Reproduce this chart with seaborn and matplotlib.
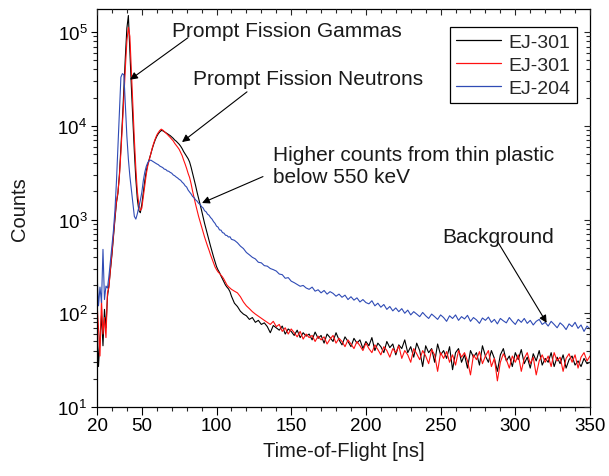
import numpy as np
import pandas as pd
import matplotlib
matplotlib.use("Agg")
import matplotlib.pyplot as plt
import seaborn as sns
from matplotlib.ticker import MultipleLocator, FixedLocator, LogLocator, NullFormatter

# ---------------- data ----------------
tof_fine = list(range(20, 111))          # 1 ns bins, 20..110 ns
tof_coarse = list(range(112, 351, 2))    # 2 ns bins, 112..350 ns

ej301_a_fine = [80, 27, 55, 95, 45, 110, 70, 150, 200, 290,
                420, 650, 1000, 1500, 1900, 3000, 5800, 11500, 25000, 55000,
                110000, 150000, 62000, 26000, 11500, 5300, 2700, 1650, 1250, 1180,
                1450, 1950, 2600, 3300, 3900, 4400, 5000, 5700, 6400, 7100,
                7700, 8200, 8600, 8900, 8850, 8650, 8450, 8250, 8050, 7850,
                7600, 7350, 7050, 6850, 6600, 6350, 6050, 5700, 5300, 5000,
                4700, 4450, 4100, 3600, 3100, 2700, 2300, 1950, 1680, 1450,
                1250, 1060, 910, 790, 690, 600, 520, 455, 400, 355,
                315, 290, 272, 250, 232, 216, 200, 190, 182, 170, 152]
ej301_a_coarse = [128, 118, 105, 98, 94, 86, 90, 80, 84, 76,
                  79, 72, 62, 74, 70, 66, 73, 60, 68, 64,
                  58, 66, 55, 62, 57, 60, 52, 63, 54, 58,
                  48, 60, 55, 50, 62, 52, 46, 56, 50, 44,
                  54, 48, 52, 42, 50, 45, 55, 40, 48, 44,
                  38, 50, 43, 47, 36, 46, 42, 52, 38, 44,
                  34, 48, 40, 27, 45, 38, 42, 30, 47, 36,
                  40, 33, 44, 25, 38, 42, 30, 36, 26, 40,
                  34, 38, 28, 45, 35, 30, 40, 33, 24, 36,
                  42, 31, 35, 27, 38, 32, 41, 29, 34, 26,
                  37, 31, 40, 28, 33, 30, 38, 27, 34, 29,
                  36, 26, 32, 35, 28, 31, 27, 33, 29, 30]

ej301_b_fine = [130, 70, 35, 140, 60, 90, 55, 165, 190, 300,
                440, 680, 1050, 1550, 1950, 2900, 5200, 10000, 20000, 42000,
                80000, 112000, 90000, 38000, 16000, 7200, 3500, 2000, 1450, 1250,
                1320, 1750, 2350, 3050, 3750, 4350, 5050, 5800, 6550, 7250,
                7950, 8450, 8900, 9200, 9000, 8700, 8400, 8100, 7800, 7500,
                7200, 6900, 6500, 6200, 5900, 5600, 5200, 4800, 4300, 3900,
                3500, 3100, 2800, 2400, 2000, 1700, 1450, 1250, 1080, 950,
                830, 730, 650, 580, 520, 470, 420, 380, 345, 312,
                292, 276, 266, 255, 244, 230, 214, 200, 192, 186, 180]
ej301_b_coarse = [172, 165, 150, 132, 120, 112, 104, 98, 93, 88,
                  84, 80, 76, 82, 72, 76, 64, 70, 60, 68,
                  62, 56, 64, 53, 60, 55, 58, 50, 57, 52,
                  56, 47, 53, 58, 48, 54, 50, 44, 52, 47,
                  42, 50, 45, 40, 48, 42, 38, 46, 41, 36,
                  44, 40, 34, 42, 38, 45, 33, 40, 36, 30,
                  42, 37, 32, 40, 35, 29, 41, 36, 24, 38,
                  33, 39, 30, 36, 28, 40, 34, 38, 31, 22,
                  36, 32, 39, 29, 35, 40, 27, 33, 19, 30,
                  37, 32, 26, 35, 30, 36, 24, 33, 38, 29,
                  34, 22, 31, 36, 30, 35, 27, 38, 31, 34,
                  24, 33, 37, 30, 36, 26, 34, 38, 31, 35]

ej204_fine = [270, 120, 190, 130, 480, 140, 195, 185, 250, 360,
              520, 760, 1250, 2500, 5800, 14000, 33000, 36000, 35000, 16000,
              7700, 4400, 2900, 2100, 1500, 1080, 1010, 1150, 1350, 1600,
              1950, 2600, 3200, 3700, 4050, 4250, 4300, 4200, 4100, 4000,
              3920, 3850, 3720, 3650, 3580, 3450, 3420, 3300, 3270, 3180,
              3120, 2990, 2930, 2840, 2770, 2680, 2620, 2500, 2420, 2290,
              2220, 2060, 1960, 1870, 1760, 1710, 1620, 1570, 1490, 1450,
              1370, 1330, 1240, 1210, 1140, 1110, 1050, 1010, 950, 910,
              850, 830, 775, 770, 725, 715, 680, 675, 650, 655, 615]
ej204_coarse = [600, 565, 520, 490, 445, 420, 395, 380, 350, 345,
                322, 318, 300, 292, 282, 262, 258, 236, 240, 220,
                212, 203, 194, 198, 186, 180, 190, 172, 178, 165,
                175, 160, 170, 163, 152, 160, 148, 156, 140, 150,
                138, 146, 132, 140, 130, 126, 136, 120, 128, 116,
                124, 110, 118, 106, 114, 104, 112, 100, 108, 96,
                104, 98, 92, 102, 94, 88, 98, 92, 86, 96,
                90, 82, 94, 88, 96, 84, 92, 87, 95, 82,
                90, 85, 78, 89, 84, 91, 80, 86, 77, 88,
                83, 79, 90, 82, 76, 86, 80, 88, 78, 84,
                75, 82, 86, 76, 80, 73, 82, 76, 70, 79,
                74, 67, 77, 72, 80, 69, 75, 64, 73, 68]

series_labels = ["EJ-301", "EJ-301", "EJ-204"]
x_ticks = [20, 50, 100, 150, 200, 250, 300, 350]

tof = np.array(tof_fine + tof_coarse, dtype=float)
series = [np.array(ej301_a_fine + ej301_a_coarse, dtype=float),
          np.array(ej301_b_fine + ej301_b_coarse, dtype=float),
          np.array(ej204_fine + ej204_coarse, dtype=float)]
colors = ["#000000", "#ff1010", "#2f4bb5"]

# ---------------- style ----------------
sns.set_style("ticks")
plt.rcParams["font.family"] = ["Liberation Sans", "DejaVu Sans"]
plt.rcParams["mathtext.fontset"] = "custom"
plt.rcParams["mathtext.rm"] = "Liberation Sans"
plt.rcParams["mathtext.it"] = "Liberation Sans:italic"
plt.rcParams["mathtext.bf"] = "Liberation Sans:bold"

fig = plt.figure(figsize=(6.09, 4.77), dpi=100)
L, R, T, B = 97, 590, 10, 408
W, H = 609, 477
ax = fig.add_axes([L / W, 1 - B / H, (R - L) / W, (B - T) / H])

for y, c, lab in zip(series, colors, series_labels):
    sns.lineplot(x=tof, y=y, ax=ax, color=c, label=lab, linewidth=0.8,
                 sort=False, estimator=None)

ax.set_yscale("log")
ax.set_xlim(20, 350)
ax.set_ylim(10, 1.76e5)
ax.xaxis.set_major_locator(FixedLocator(x_ticks))
ax.xaxis.set_minor_locator(MultipleLocator(10))
ax.yaxis.set_major_locator(LogLocator(base=10, numticks=10))
ax.yaxis.set_minor_locator(LogLocator(base=10, subs=np.arange(2, 10), numticks=20))
ax.yaxis.set_minor_formatter(NullFormatter())

for s in ax.spines.values():
    s.set_color("black")
    s.set_linewidth(0.9)
    s.set_visible(True)

ax.tick_params(axis="x", which="major", direction="out", length=5.5, width=0.8,
               labelsize=13.5, pad=1.5, colors="black")
ax.tick_params(axis="x", which="minor", direction="out", length=3, width=0.8)
ax.tick_params(axis="y", which="major", direction="out", length=4, width=0.8,
               labelsize=13.5, pad=3, colors="black")
ax.tick_params(axis="y", which="minor", direction="out", length=3, width=0.8)

# top and right inward ticks
axt = ax.twiny()
axt.set_xlim(ax.get_xlim())
axt.xaxis.set_major_locator(FixedLocator(x_ticks))
axt.xaxis.set_minor_locator(MultipleLocator(10))
axt.tick_params(axis="x", which="major", direction="in", length=4.5, width=0.8, labeltop=False)
axt.tick_params(axis="x", which="minor", direction="in", length=3, width=0.8)
axr = ax.twinx()
axr.set_yscale("log")
axr.set_ylim(ax.get_ylim())
axr.yaxis.set_major_locator(LogLocator(base=10, numticks=10))
axr.yaxis.set_minor_locator(LogLocator(base=10, subs=np.arange(2, 10), numticks=20))
axr.tick_params(axis="y", which="major", direction="in", length=4.5, width=0.8, labelright=False)
axr.tick_params(axis="y", which="minor", direction="in", length=3, width=0.8, labelright=False)
for a in (axt, axr):
    for s in a.spines.values():
        s.set_visible(False)

ax.set_xlabel("Time-of-Flight [ns]", fontsize=14.5, color="#1a1a1a")
ax.set_ylabel("Counts", fontsize=14.5, color="#1a1a1a")
ax.xaxis.set_label_coords(0.5, -0.085)
ax.yaxis.set_label_coords(-0.138, 0.5)

leg = ax.legend(loc="upper right", bbox_to_anchor=(577 / W, 1 - 28 / H),
                bbox_transform=fig.transFigure, frameon=True, fancybox=False,
                edgecolor="black", framealpha=1, borderaxespad=0, fontsize=14,
                handlelength=2.3, handletextpad=0.4, labelspacing=0.27,
                borderpad=0.33)
leg.get_frame().set_linewidth(0.9)
for h in leg.get_lines():
    h.set_linewidth(0.9)

# annotations
txt_kw = dict(fontsize=15, color="#1a1a1a")
arr = dict(arrowstyle="-|>", color="black", lw=0.8, mutation_scale=11,
           shrinkA=0, shrinkB=0)
ax.text(70.2, 1.05e5, "Prompt Fission Gammas", va="center", ha="left", **txt_kw)
ax.annotate("", xy=(42.1, 3.1e4), xytext=(80.9, 8.7e4), arrowprops=arr)
ax.text(84.3, 3.2e4, "Prompt Fission Neutrons", va="center", ha="left", **txt_kw)
ax.annotate("", xy=(76.9, 6.7e3), xytext=(120.4, 2.3e4), arrowprops=arr)
ax.text(137.8, 6.3e3, "Higher counts from thin plastic\nbelow 550 keV", va="top",
        ha="left", linespacing=1.2, **txt_kw)
ax.annotate("", xy=(90.3, 1.5e3), xytext=(131.1, 2.87e3), arrowprops=arr)
ax.text(251.4, 660, "Background", va="center", ha="left", **txt_kw)
ax.annotate("", xy=(321.0, 79), xytext=(288.6, 565), arrowprops=arr)

fig.savefig("out.png", dpi=100)
